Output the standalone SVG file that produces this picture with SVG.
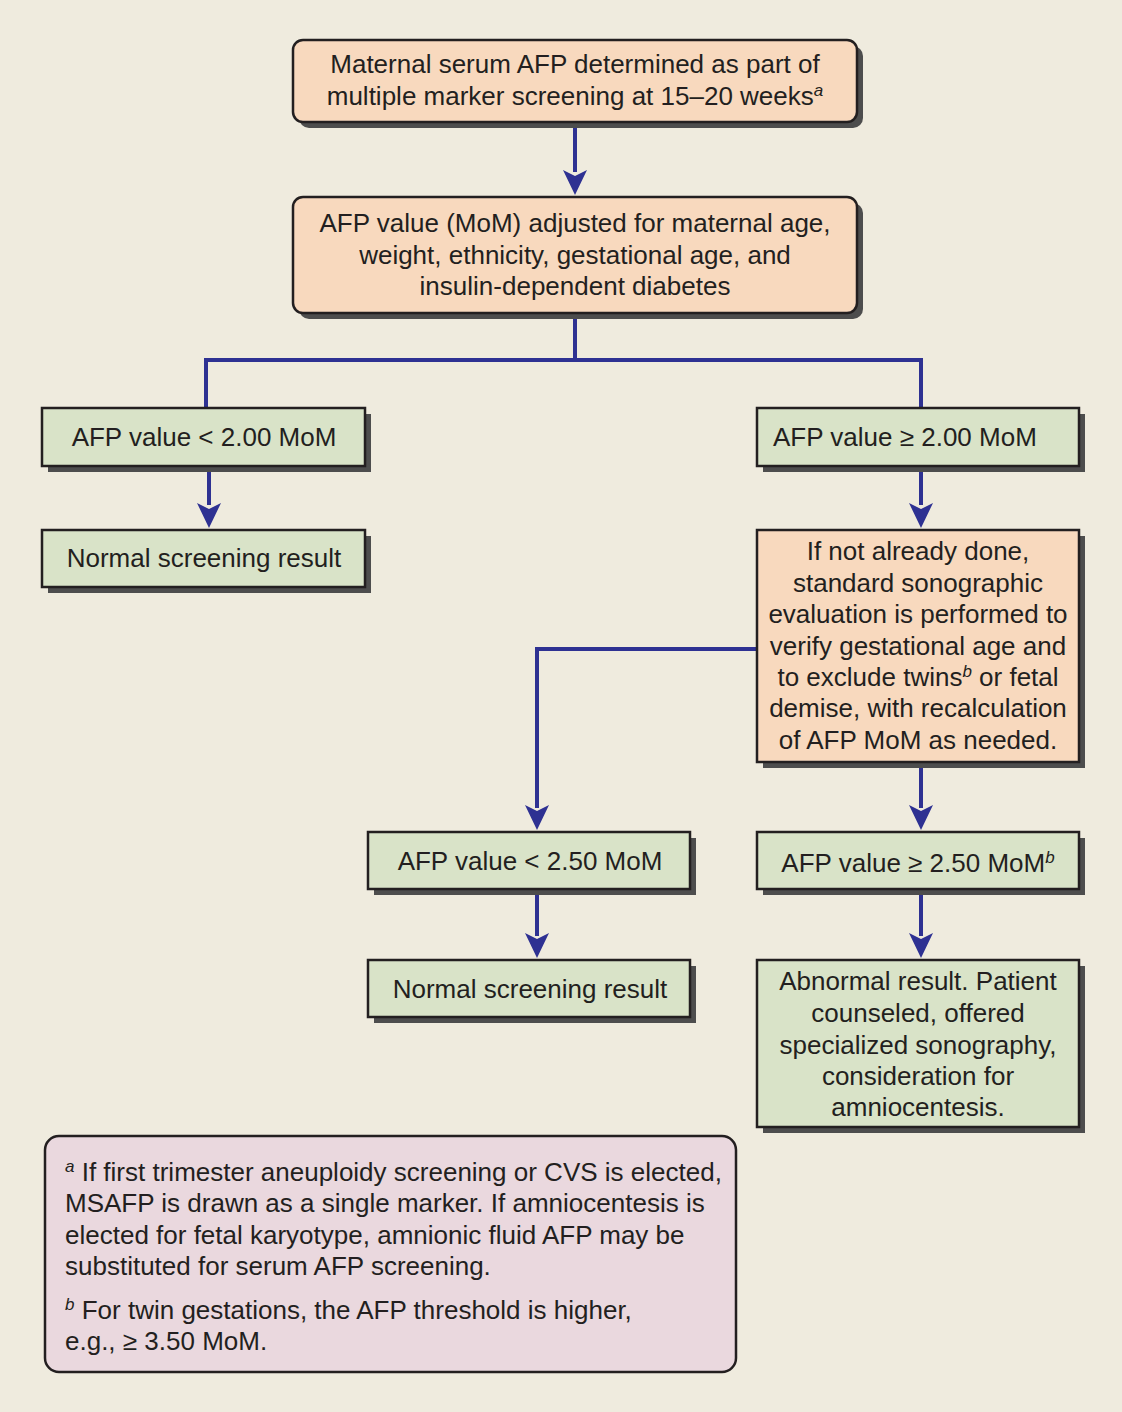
<svg xmlns="http://www.w3.org/2000/svg" width="1122" height="1412" viewBox="0 0 1122 1412">
<defs>
<style>
.bg{fill:#EFEBDE}
.sh{fill:#4d4d4d}
.peach{fill:#F8D9BE;stroke:#231F20;stroke-width:2.5}
.green{fill:#D9E3C8;stroke:#231F20;stroke-width:2.5}
.note{fill:#EAD8DE;stroke:#231F20;stroke-width:2.5}
text{font-family:"Liberation Sans",Arial,sans-serif;font-size:26px;fill:#231F20}
.c{text-anchor:middle}
.sup{font-size:17px;font-style:italic}
.conn{fill:none;stroke:#2E3192;stroke-width:4}
.head{fill:#2E3192}
</style>
</defs>
<rect class="bg" x="0" y="0" width="1122" height="1412"/>

<g id="connectors">
<path class="conn" d="M575,122 V172"/>
<path class="head" d="M563,170 L575,176 L587,170 L575,195 Z"/>
<path class="conn" d="M575,313 V360 M206,408 V360 H921 V408"/>
<path class="conn" d="M209,466 V505"/>
<path class="head" d="M197,503 L209,509 L221,503 L209,528 Z"/>
<path class="conn" d="M921,466 V505"/>
<path class="head" d="M909,503 L921,509 L933,503 L921,528 Z"/>
<path class="conn" d="M757,649 H537 V808"/>
<path class="head" d="M525,805 L537,811 L549,805 L537,830 Z"/>
<path class="conn" d="M921,762 V808"/>
<path class="head" d="M909,805 L921,811 L933,805 L921,830 Z"/>
<path class="conn" d="M537,889 V936"/>
<path class="head" d="M525,933 L537,939 L549,933 L537,958 Z"/>
<path class="conn" d="M921,889 V936"/>
<path class="head" d="M909,933 L921,939 L933,933 L921,958 Z"/>
</g>

<g id="n1">
<rect class="sh" x="299" y="46" width="564" height="82" rx="10"/>
<rect class="peach" x="293" y="40" width="564" height="82" rx="10"/>
<text class="c" x="575" y="73">Maternal serum AFP determined as part of</text>
<text class="c" x="575" y="105">multiple marker screening at 15–20 weeks<tspan class="sup" dy="-9">a</tspan></text>
</g>

<g id="n2">
<rect class="sh" x="299" y="203" width="564" height="116" rx="10"/>
<rect class="peach" x="293" y="197" width="564" height="116" rx="10"/>
<text class="c" x="575" y="232">AFP value (MoM) adjusted for maternal age,</text>
<text class="c" x="575" y="264">weight, ethnicity, gestational age, and</text>
<text class="c" x="575" y="295">insulin-dependent diabetes</text>
</g>

<g id="n3">
<rect class="sh" x="48" y="414" width="323" height="58"/>
<rect class="green" x="42" y="408" width="323" height="58"/>
<text class="c" x="204" y="446">AFP value &lt; 2.00 MoM</text>
</g>

<g id="n4">
<rect class="sh" x="48" y="536" width="323" height="57"/>
<rect class="green" x="42" y="530" width="323" height="57"/>
<text class="c" x="204" y="567">Normal screening result</text>
</g>

<g id="n5">
<rect class="sh" x="763" y="414" width="322" height="58"/>
<rect class="green" x="757" y="408" width="322" height="58"/>
<text x="773" y="446">AFP value ≥ 2.00 MoM</text>
</g>

<g id="n6">
<rect class="sh" x="763" y="536" width="322" height="232"/>
<rect class="peach" x="757" y="530" width="322" height="232"/>
<text class="c" x="918" y="560">If not already done,</text>
<text class="c" x="918" y="592">standard sonographic</text>
<text class="c" x="918" y="623">evaluation is performed to</text>
<text class="c" x="918" y="655">verify gestational age and</text>
<text class="c" x="918" y="686">to exclude twins<tspan class="sup" dy="-9">b</tspan><tspan dy="9"> or fetal</tspan></text>
<text class="c" x="918" y="717">demise, with recalculation</text>
<text class="c" x="918" y="749">of AFP MoM as needed.</text>
</g>

<g id="n7">
<rect class="sh" x="374" y="838" width="322" height="57"/>
<rect class="green" x="368" y="832" width="322" height="57"/>
<text class="c" x="530" y="870">AFP value &lt; 2.50 MoM</text>
</g>

<g id="n8">
<rect class="sh" x="763" y="838" width="322" height="57"/>
<rect class="green" x="757" y="832" width="322" height="57"/>
<text class="c" x="918" y="872">AFP value ≥ 2.50 MoM<tspan class="sup" dy="-9">b</tspan></text>
</g>

<g id="n9">
<rect class="sh" x="374" y="966" width="322" height="57"/>
<rect class="green" x="368" y="960" width="322" height="57"/>
<text class="c" x="530" y="998">Normal screening result</text>
</g>

<g id="n10">
<rect class="sh" x="763" y="966" width="322" height="167"/>
<rect class="green" x="757" y="960" width="322" height="167"/>
<text class="c" x="918" y="990">Abnormal result. Patient</text>
<text class="c" x="918" y="1022">counseled, offered</text>
<text class="c" x="918" y="1054">specialized sonography,</text>
<text class="c" x="918" y="1085">consideration for</text>
<text class="c" x="918" y="1116">amniocentesis.</text>
</g>

<g id="footnotes">
<rect class="note" x="45" y="1136" width="691" height="236" rx="14"/>
<text x="65" y="1181"><tspan class="sup" dy="-9">a</tspan><tspan dy="9"> If first trimester aneuploidy screening or CVS is elected,</tspan></text>
<text x="65" y="1212">MSAFP is drawn as a single marker. If amniocentesis is</text>
<text x="65" y="1244">elected for fetal karyotype, amnionic fluid AFP may be</text>
<text x="65" y="1275">substituted for serum AFP screening.</text>
<text x="65" y="1319"><tspan class="sup" dy="-9">b</tspan><tspan dy="9"> For twin gestations, the AFP threshold is higher,</tspan></text>
<text x="65" y="1350">e.g., ≥ 3.50 MoM.</text>
</g>
</svg>
